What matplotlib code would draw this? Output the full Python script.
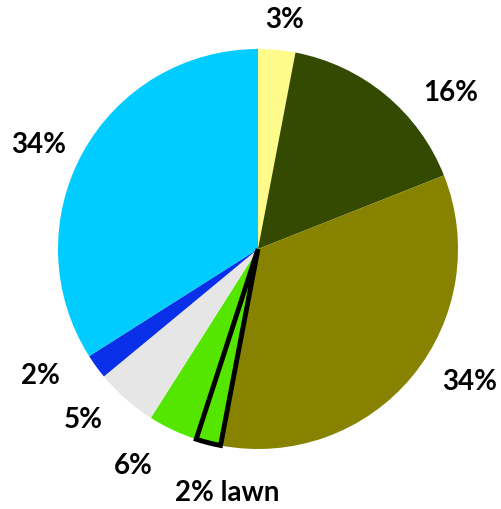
import matplotlib
matplotlib.use("Agg")
import matplotlib.pyplot as plt

# Share of each category (%), clockwise from 12 o'clock
categories = ["flowers", "trees", "shrubs", "grass", "paving", "water", "buildings"]
shares = [3, 16, 34, 6, 5, 2, 34]
colors = ["#FFFB8A", "#334A00", "#878300", "#55E600", "#E6E6E6", "#0A2FE8", "#00CCFF"]
# lawn is the part of the grass slice that gets outlined
lawn_share = 2
grass_idx = 3

labels = ["3%", "16%", "34%", "2% lawn", "6%", "5%", "2%", "34%"]
# label anchor points (figure pixels, origin top-left)
label_pos = [(285, 20), (451, 93), (470, 382), (227, 493),
             (133, 466), (83, 420), (40, 376), (39, 145)]

# split grass into lawn + rest so the lawn wedge can be outlined
values = shares[:grass_idx] + [lawn_share, shares[grass_idx] - lawn_share] + shares[grass_idx + 1:]
wedge_colors = colors[:grass_idx] + [colors[grass_idx]] + colors[grass_idx:]

W, H = 502, 509
fig = plt.figure(figsize=(W / 100, H / 100), dpi=100)
ax = fig.add_axes([0, 0, 1, 1])

wedges, _ = ax.pie(values, colors=wedge_colors, startangle=90, counterclock=False,
                   center=(258, H - 249), radius=200, frame=True,
                   wedgeprops=dict(linewidth=0))
ax.set_xlim(0, W)
ax.set_ylim(0, H)
ax.axis("off")

lawn = wedges[grass_idx]
lawn.set_edgecolor("black")
lawn.set_linewidth(3.5)
lawn.set_joinstyle("miter")
lawn.set_zorder(5)

for text, (x, y) in zip(labels, label_pos):
    ax.text(x, H - y, text, ha="center", va="center", fontsize=20,
            fontweight="bold", family=["Lato", "DejaVu Sans"], color="black")

fig.savefig("out.png", dpi=100)
